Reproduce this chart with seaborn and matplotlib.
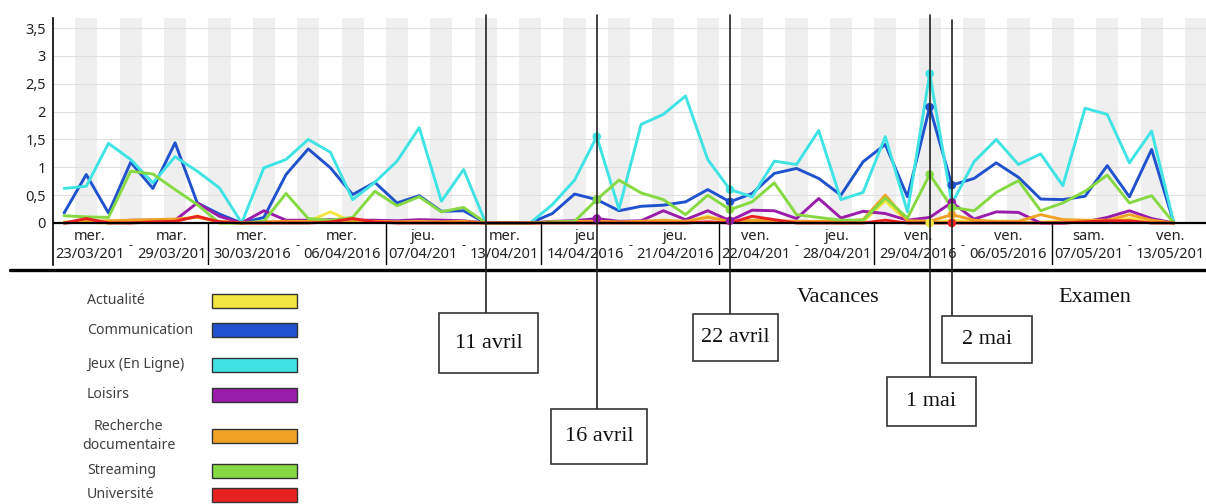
import numpy as np
import pandas as pd
import matplotlib
matplotlib.use("Agg")
import matplotlib.pyplot as plt
import matplotlib.transforms as mtransforms
from matplotlib.patches import Rectangle
from matplotlib.lines import Line2D
import seaborn as sns

nan = np.nan

# ---------------- data ----------------
categories = ["Actualité", "Communication", "Jeux (En Ligne)", "Loisirs",
              "Recherche documentaire", "Streaming", "Université"]
legend_labels = ["Actualité", "Communication", "Jeux (En Ligne)", "Loisirs",
                 "Recherche\ndocumentaire", "Streaming", "Université"]
colors = ["#f2e640", "#1f52cc", "#3fe3e3", "#9a1caa", "#f0a224", "#86d942", "#e82222"]

# one value per day, 23/03/2016 (index 0) ... 13/05/2016 (index 51)
actualite = [0.02, 0.01, 0.00, 0.02, 0.02, 0.03, 0.13, 0.00, 0.00, 0.00,
             0.02, 0.03, 0.20, 0.02, 0.05, 0.01, 0.02, 0.01, 0.02, 0.00,
             nan, 0.00, 0.01, 0.02, 0.02, 0.02, 0.02, 0.03, 0.02, 0.12,
             0.02, 0.02, 0.03, 0.02, 0.02, 0.00, 0.02, 0.40, 0.02, 0.00,
             0.05, 0.02, 0.02, 0.01, 0.02, 0.03, 0.02, 0.03, 0.08, 0.03,
             0.00, nan]
communication = [0.18, 0.87, 0.18, 1.09, 0.62, 1.44, 0.36, 0.16, 0.00, 0.10,
                 0.87, 1.33, 0.99, 0.51, 0.73, 0.36, 0.49, 0.21, 0.22, 0.00,
                 nan, 0.00, 0.17, 0.52, 0.42, 0.22, 0.30, 0.32, 0.38, 0.60,
                 0.38, 0.53, 0.89, 0.98, 0.80, 0.50, 1.10, 1.41, 0.47, 2.08,
                 0.68, 0.80, 1.08, 0.82, 0.43, 0.42, 0.48, 1.03, 0.47, 1.32,
                 0.00, nan]
jeux = [0.62, 0.66, 1.43, 1.14, 0.72, 1.19, 0.93, 0.63, 0.00, 0.99,
        1.14, 1.50, 1.27, 0.42, 0.73, 1.11, 1.71, 0.39, 0.96, 0.00,
        nan, 0.00, 0.33, 0.77, 1.55, 0.25, 1.77, 1.95, 2.28, 1.14,
        0.60, 0.47, 1.11, 1.05, 1.66, 0.42, 0.55, 1.55, 0.20, 2.68,
        0.35, 1.10, 1.50, 1.05, 1.24, 0.67, 2.06, 1.95, 1.08, 1.65,
        0.00, nan]
loisirs = [0.00, 0.02, 0.02, 0.05, 0.05, 0.05, 0.36, 0.12, 0.00, 0.22,
           0.05, 0.05, 0.06, 0.05, 0.05, 0.04, 0.06, 0.05, 0.04, 0.00,
           nan, 0.00, 0.03, 0.04, 0.08, 0.03, 0.04, 0.22, 0.06, 0.22,
           0.04, 0.23, 0.22, 0.08, 0.44, 0.09, 0.21, 0.17, 0.05, 0.10,
           0.37, 0.07, 0.20, 0.19, 0.00, 0.00, 0.02, 0.10, 0.22, 0.08,
           0.00, nan]
recherche = [0.00, 0.03, 0.04, 0.05, 0.06, 0.07, 0.10, 0.03, 0.00, 0.02,
             0.03, 0.03, 0.04, 0.03, 0.03, 0.02, 0.03, 0.02, 0.03, 0.00,
             nan, 0.00, 0.02, 0.03, 0.03, 0.02, 0.03, 0.05, 0.03, 0.10,
             0.03, 0.05, 0.04, 0.03, 0.03, 0.03, 0.06, 0.50, 0.04, 0.03,
             0.15, 0.05, 0.03, 0.03, 0.15, 0.06, 0.05, 0.05, 0.15, 0.05,
             0.00, nan]
streaming = [0.13, 0.11, 0.10, 0.93, 0.88, 0.60, 0.33, 0.00, 0.00, 0.03,
             0.53, 0.08, 0.05, 0.10, 0.57, 0.31, 0.47, 0.20, 0.28, 0.00,
             nan, 0.00, 0.02, 0.03, 0.42, 0.77, 0.54, 0.42, 0.15, 0.50,
             0.24, 0.38, 0.72, 0.15, 0.10, 0.05, 0.05, 0.45, 0.09, 0.87,
             0.28, 0.22, 0.55, 0.76, 0.22, 0.36, 0.57, 0.86, 0.36, 0.49,
             0.00, nan]
universite = [0.00, 0.08, 0.00, 0.00, 0.02, 0.03, 0.12, 0.02, 0.00, 0.00,
              0.00, 0.00, 0.02, 0.08, 0.02, 0.00, 0.00, 0.00, 0.00, 0.00,
              nan, 0.00, 0.00, 0.00, 0.00, 0.00, 0.00, 0.00, 0.00, 0.02,
              0.00, 0.12, 0.06, 0.00, 0.00, 0.00, 0.00, 0.05, 0.00, 0.00,
              0.00, 0.00, 0.00, 0.00, 0.00, 0.00, 0.02, 0.04, 0.04, 0.00,
              0.00, nan]
series = [actualite, communication, jeux, loisirs, recherche, streaming, universite]

# week groups on the x axis
group_bounds = [-0.5, 6.5, 14.5, 21.5, 29.5, 36.5, 44.5, 51.5]
group_start_dates = ["23/03/201", "30/03/2016", "07/04/201", "14/04/2016",
                     "22/04/201", "29/04/2016", "07/05/201"]
group_end_dates = ["29/03/201", "06/04/2016", "13/04/201", "21/04/2016",
                   "28/04/201", "06/05/2016", "13/05/201"]
group_start_days = ["mer.", "mer.", "jeu.", "jeu", "ven.", "ven.", "sam."]
group_end_days = ["mar.", "mer.", "mer.", "jeu.", "jeu.", "ven.", "ven."]

yticks = [0, 0.5, 1, 1.5, 2, 2.5, 3, 3.5]
ytick_labels = ["0", "0,5", "1", "1,5", "2", "2,5", "3", "3,5"]

# events
event_labels = ["11 avril", "16 avril", "22 avril", "1 mai", "2 mai"]
event_days = [19, 24, 30, 39, 40]
event_boxes = [(439, 538, 313, 373), (551, 647, 409, 464), (693, 778, 314, 361),
               (887, 976, 377, 426), (942, 1032, 316, 363)]
event_tops = [15, 15, 15, 15, 20]
highlight = {
    24: ["Communication", "Jeux (En Ligne)", "Loisirs", "Streaming"],
    30: ["Communication", "Jeux (En Ligne)", "Loisirs", "Streaming"],
    39: ["Actualité", "Communication", "Jeux (En Ligne)", "Streaming"],
    40: ["Communication", "Loisirs", "Recherche documentaire", "Streaming", "Université"],
}
period_labels = ["Vacances", "Examen"]
period_pos = [(838, 298), (1095, 298)]

# ---------------- figure ----------------
W, H = 1206, 504
sns.set_theme(style="white")
plt.rcParams['font.family'] = ['Noto Sans', 'DejaVu Sans']

fig = plt.figure(figsize=(W / 100, H / 100), dpi=100)
fig.patch.set_facecolor("white")


def fx(px):
    return px / W


def fy(py):
    return 1 - py / H


ax = fig.add_axes([fx(53), fy(265), fx(1206) - fx(53), fy(18) - fy(265)])
Y_TOP, Y_BOT = 3.68, -0.754
X_MIN, X_MAX = -0.5, 51.45
ax.set_xlim(X_MIN, X_MAX)
ax.set_ylim(Y_BOT, Y_TOP)
ax.set_facecolor("white")

days = np.arange(len(jeux))
zero_frac = (0 - Y_BOT) / (Y_TOP - Y_BOT)
for d in days:
    if d % 2 == 1:
        ax.axvspan(d - 0.5, d + 0.5, ymin=zero_frac, ymax=1, color="#efefef", lw=0, zorder=0)
ax.hlines(yticks[1:], X_MIN, X_MAX, colors="#e0e0e0", lw=0.8, zorder=1)

palette = dict(zip(categories, colors))
df = pd.DataFrame({
    "day": np.tile(days, len(categories)),
    "value": np.concatenate([np.asarray(s, dtype=float) for s in series]),
    "cat": np.repeat(categories, len(days)),
})
sns.lineplot(data=df, x="day", y="value", hue="cat", hue_order=categories,
             palette=palette, estimator=None, lw=2.1, legend=False, ax=ax, zorder=3)

mk_rows = []
for d, cats in highlight.items():
    for c in cats:
        mk_rows.append({"day": d, "value": series[categories.index(c)][d], "cat": c})
mk = pd.DataFrame(mk_rows)
sns.scatterplot(data=mk, x="day", y="value", hue="cat", hue_order=categories,
                palette=palette, s=38, linewidth=0, legend=False, ax=ax, zorder=5)

ax.axhline(0, color="black", lw=1.6, zorder=4)
ax.vlines(group_bounds[1:-1], Y_BOT, 0, colors="black", lw=1.0, zorder=4)

for s in ["top", "right", "bottom"]:
    ax.spines[s].set_visible(False)
ax.spines["left"].set_color("black")
ax.spines["left"].set_linewidth(1.2)
ax.set_xticks([])
ax.set_yticks(yticks)
ax.set_yticklabels(ytick_labels, fontsize=10.5, color="#222222")
ax.tick_params(axis="y", length=0, pad=5)
ax.set_xlabel("")
ax.set_ylabel("")

trans = mtransforms.blended_transform_factory(ax.transData, fig.transFigure)

date_texts = []
for g in range(len(group_start_dates)):
    c = (group_bounds[g] + group_bounds[g + 1]) / 2
    t1 = ax.text(c - 0.28, fy(254), group_start_dates[g], ha="right", va="center",
                 fontsize=10.5, color="#222222", transform=trans)
    ax.text(c, fy(246), "-", ha="center", va="center", fontsize=9, color="#222222",
            transform=trans)
    t2 = ax.text(c + 0.28, fy(254), group_end_dates[g], ha="left", va="center",
                 fontsize=10.5, color="#222222", transform=trans)
    date_texts.append((t1, t2))

fig.canvas.draw()
renderer = fig.canvas.get_renderer()
for g, (t1, t2) in enumerate(date_texts):
    for t, lab in ((t1, group_start_days[g]), (t2, group_end_days[g])):
        bb = t.get_window_extent(renderer)
        cx = (bb.x0 + bb.x1) / 2 / fig.bbox.width
        fig.text(cx, fy(237), lab, ha="center", va="center", fontsize=10.5, color="#222222")

# timeline
fig.add_artist(Line2D([fx(10), fx(1206)], [fy(270), fy(270)], transform=fig.transFigure,
                      color="black", lw=2.4, zorder=3))

# events
for lab, d, box, top in zip(event_labels, event_days, event_boxes, event_tops):
    x0, x1, y0, y1 = box
    fig.add_artist(Line2D([d, d], [fy(top), fy(y0)], transform=trans,
                          color="#222222", lw=1.2, zorder=6))
    fig.add_artist(Rectangle((fx(x0), fy(y1)), fx(x1) - fx(x0), fy(y0) - fy(y1),
                             transform=fig.transFigure, facecolor="white",
                             edgecolor="#333333", lw=1.2, zorder=7))
    fig.text(fx((x0 + x1) / 2), fy((y0 + y1) / 2), lab, ha="center", va="center",
             fontsize=16, family="Liberation Serif", color="#111111", zorder=8)

for lab, (px, py) in zip(period_labels, period_pos):
    fig.text(fx(px), fy(py), lab, ha="center", va="center", fontsize=16,
             family="Liberation Serif", color="#111111")

# legend
legend_y = [301, 330, 365, 395, 436, 471, 495]
for lab, col, ly in zip(legend_labels, colors, legend_y):
    if "\n" in lab:
        fig.text(fx(82), fy(ly), lab, ha="left", va="center", fontsize=10.2,
                 color="#404040", multialignment="center", linespacing=1.3)
    else:
        fig.text(fx(87), fy(ly), lab, ha="left", va="center", fontsize=10.2, color="#404040")
    fig.add_artist(Rectangle((fx(212), fy(ly + 7)), fx(297) - fx(212), fy(ly - 7) - fy(ly + 7),
                             transform=fig.transFigure, facecolor=col,
                             edgecolor="#333333", lw=1.0, zorder=3))

fig.savefig("out.png", dpi=100, facecolor="white")
